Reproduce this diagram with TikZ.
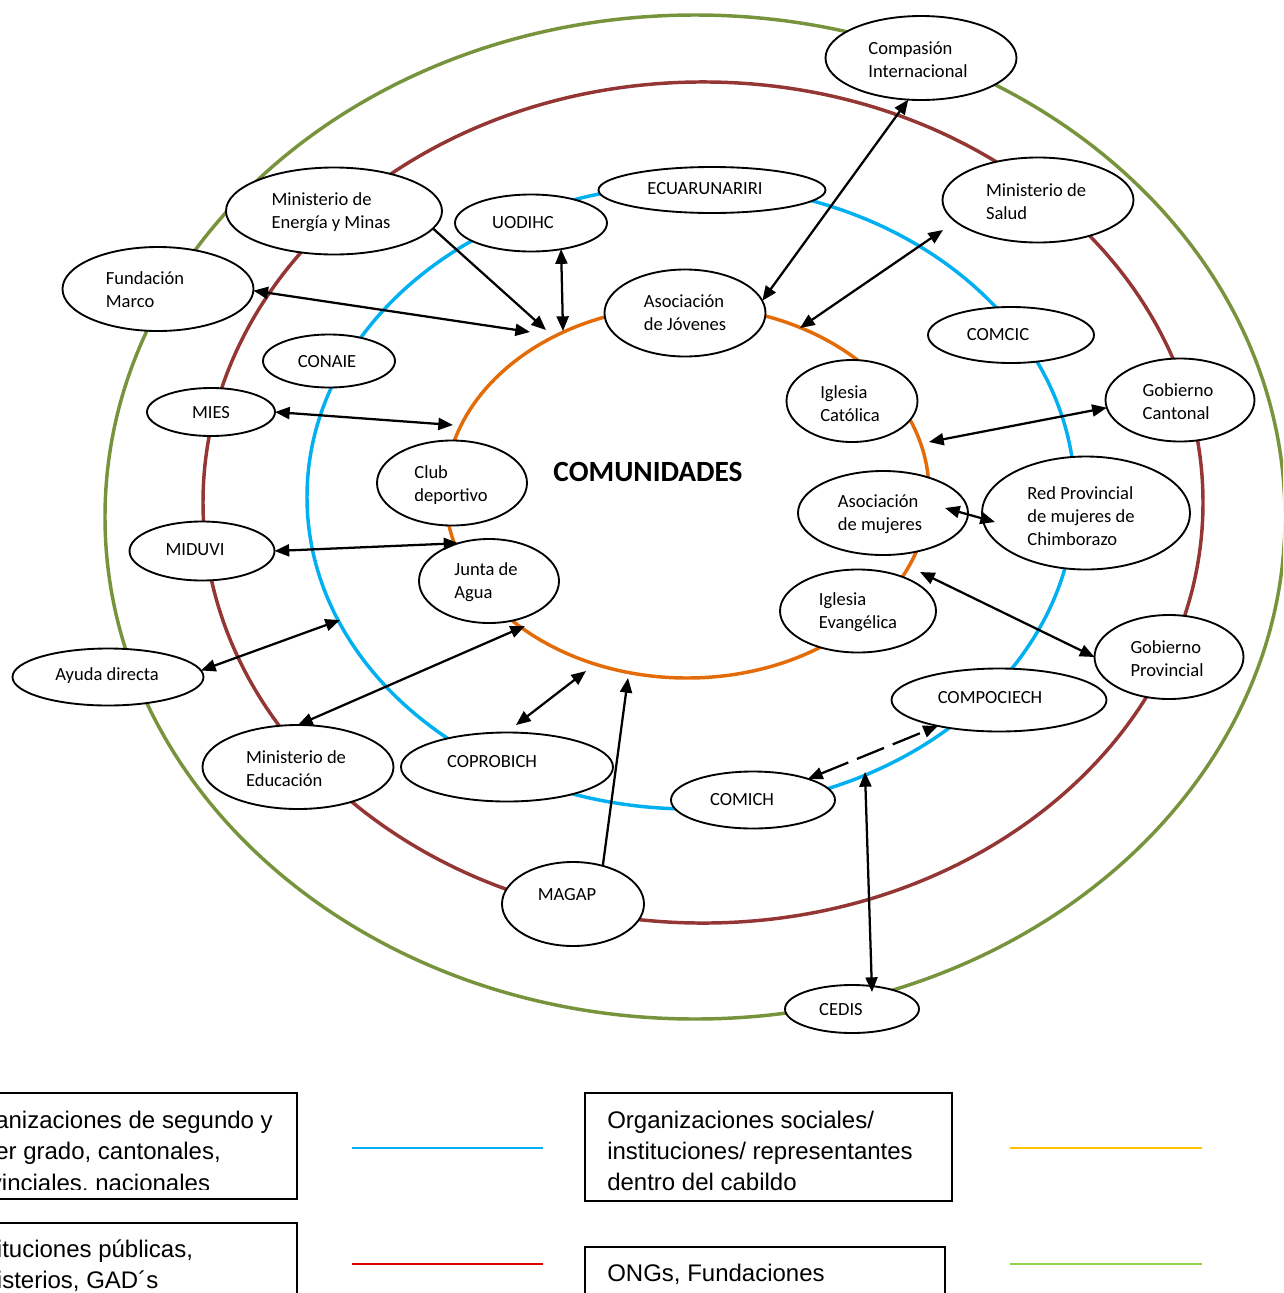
\documentclass[tikz,border=0pt]{standalone}
\usepackage{fontspec}
\setmainfont{Carlito}
\newfontfamily\legfont{Liberation Sans}
\usetikzlibrary{arrows.meta,shapes.geometric}
\definecolor{rgreen}{HTML}{77933C}
\definecolor{rred}{HTML}{943634}
\definecolor{rblue}{HTML}{00B0F0}
\definecolor{rorange}{HTML}{E36C09}
\definecolor{lred}{HTML}{D80000}
\definecolor{lyellow}{HTML}{FFC000}
\definecolor{lgreen}{HTML}{92D050}
\newcommand\mkbub[6]{%
  \node[bub, minimum width=#3*0.75pt, minimum height=#4*0.75pt] (#1) at (#2) {};
  \node[lbl] (#1t) at (#5) {#6};}
\begin{document}
\begin{tikzpicture}[x=0.75pt,y=-0.75pt,
  ring/.style={line width=2.6pt},
  bub/.style={ellipse, draw, line width=1.4pt, fill=white, inner sep=0pt, outer sep=0pt},
  lbl/.style={font=\fontsize{13.9pt}{17.25pt}\selectfont, align=left, inner sep=0pt},
  arr/.style={line width=1.7pt, {Triangle[length=11pt,width=9pt]}-{Triangle[length=11pt,width=9pt]}},
  sarr/.style={line width=1.7pt, -{Triangle[length=11pt,width=9pt]}},
  dsh/.style={dash pattern=on 22pt off 7pt},
  legbox/.style={draw, line width=1.4pt},
  legtxt/.style={font=\legfont\fontsize{18pt}{23pt}\selectfont, inner sep=0pt, anchor=base west},
  legline/.style={line width=1.6pt}]
\clip (0,0) rectangle (1283,1293);

% rings
\draw[ring, rgreen] (695,517) ellipse [x radius=442.5pt, y radius=376.5pt];
\draw[ring, rred] (703,502.5) ellipse [x radius=375pt, y radius=315.4pt];
\draw[ring, rblue] (691,497) ellipse [x radius=288pt, y radius=234pt];
\draw[ring, rorange] (687,492) ellipse [x radius=181.5pt, y radius=139.5pt];

% nodes
\mkbub{ci}{921,58}{191}{84}{918,60}{Compasión\\Internacional}
\mkbub{ms}{1038,200}{191}{85}{1036,202}{Ministerio de\\Salud}
\mkbub{ec}{712,190}{227}{46}{705,189}{ECUARUNARIRI}
\mkbub{uo}{531,223}{152}{57}{523,223}{UODIHC}
\mkbub{em}{334,211}{216}{87}{331,212}{Ministerio de\\Energía y Minas}
\mkbub{fm}{158,289}{191}{84}{145,290}{Fundación\\Marco}
\mkbub{aj}{685,313}{161}{87}{685,313}{Asociación\\de Jóvenes}
\mkbub{cc}{1011,335}{166}{56}{998,335}{COMCIC}
\mkbub{cn}{329,361}{132}{53}{327,362}{CONAIE}
\mkbub{mi}{211,412}{128}{48}{211,413}{MIES}
\mkbub{ic}{852,401}{131}{82}{850,404}{Iglesia\\Católica}
\mkbub{gc}{1180,400}{149}{83}{1178,402}{Gobierno\\Cantonal}
\mkbub{cd}{452,483}{150}{85}{451,485}{Club\\deportivo}
\mkbub{am}{883,513}{170}{84}{880,514}{Asociación\\de mujeres}
\mkbub{rp}{1086,513}{208}{113}{1081,516}{Red Provincial\\de mujeres de\\Chimborazo}
\mkbub{md}{202,551}{145}{59}{195,550}{MIDUVI}
\mkbub{ja}{489,581}{140}{84}{486,582}{Junta de\\Agua}
\mkbub{ie}{858,611}{156}{83}{858,612}{Iglesia\\Evangélica}
\mkbub{gp}{1169,657}{149}{84}{1167,659}{Gobierno\\Provincial}
\mkbub{ad}{108,677}{191}{57}{107,676}{Ayuda directa}
\mkbub{cp}{999,700}{215}{63}{990,698}{COMPOCIECH}
\mkbub{me}{298,767}{191}{84}{296,769}{Ministerio de\\Educación}
\mkbub{co}{507,767}{212}{69}{492,762}{COPROBICH}
\mkbub{cm}{753,800}{164}{57}{742,800}{COMICH}
\mkbub{mg}{573,904}{142}{84}{567,895}{MAGAP}
\mkbub{ce}{852,1009}{134}{48}{841,1010}{CEDIS}

\node[font=\bfseries\fontsize{22pt}{26pt}\selectfont, inner sep=0pt] (comu) at (648,472) {COMUNIDADES};

% free ends
\coordinate (p1) at (546,330);
\coordinate (p2) at (563,331);
\coordinate (p3) at (530,332);
\coordinate (p5a) at (943,230);
\coordinate (p5b) at (800,328);
\coordinate (p6) at (453,425);
\coordinate (p7) at (929,442);
\coordinate (p8a) at (945,508);
\coordinate (p8b) at (995,522);
\coordinate (p10) at (920,572);
\coordinate (p11) at (340,620);
\coordinate (p12) at (525,626);
\coordinate (p13a) at (516,725);
\coordinate (p13b) at (586,671);
\coordinate (p14) at (628,678);
\coordinate (p16a) at (872,992);
\coordinate (p16b) at (865,772);

% connectors
\draw[sarr] (em.-10) -- (p1);
\draw[arr] (uo.-41) -- (p2);
\draw[arr] (fm.-1) -- (p3);
\draw[arr] (ci.-107) -- (aj.9);
\draw[arr] (p5a) -- (p5b);
\draw[arr] (mi.east) -- (p6);
\draw[arr] (p7) -- (gc.-174);
\draw[arr] (p8a) -- (p8b);
\draw[arr] (md.east) -- (ja.129);
\draw[arr] (p10) -- (gp.west);
\draw[arr] (ad.4) -- (p11);
\draw[arr] (me.north) -- (p12);
\draw[arr] (p13a) -- (p13b);
\draw[sarr] (mg.52) -- (p14);
\draw[arr, dsh] (cm.21) -- (cp.-157);
\draw[arr] (p16a) -- (p16b);

% legend
\draw[legbox] (-62,1093) rectangle (297,1199);
\begin{scope}
\clip (-62,1093) rectangle (297,1189);
\node[legtxt] (l1a) at (-45,1128) {Organizaciones de segundo y};
\node[legtxt] (l1b) at (-45,1159) {tercer grado, cantonales,};
\node[legtxt] (l1c) at (-45,1191) {provinciales, nacionales};
\end{scope}
\draw[legbox] (-62,1223) rectangle (297,1320);
\node[legtxt] (l2a) at (-42,1257) {Instituciones públicas,};
\node[legtxt] (l2b) at (-42,1288) {ministerios, GAD´s};
\draw[legbox] (585,1093) rectangle (952,1201);
\node[legtxt] (l3a) at (607,1128) {Organizaciones sociales/};
\node[legtxt] (l3b) at (607,1159) {instituciones/ representantes};
\node[legtxt] (l3c) at (607,1190) {dentro del cabildo};
\draw[legbox] (585,1247) rectangle (945,1320);
\node[legtxt] (l4a) at (607,1281) {ONGs, Fundaciones};

\draw[legline, rblue] (352,1148) -- (543,1148);
\draw[legline, lyellow] (1010,1148) -- (1202,1148);
\draw[legline, lred] (352,1264) -- (543,1264);
\draw[legline, lgreen] (1010,1264) -- (1202,1264);
\end{tikzpicture}
\end{document}
